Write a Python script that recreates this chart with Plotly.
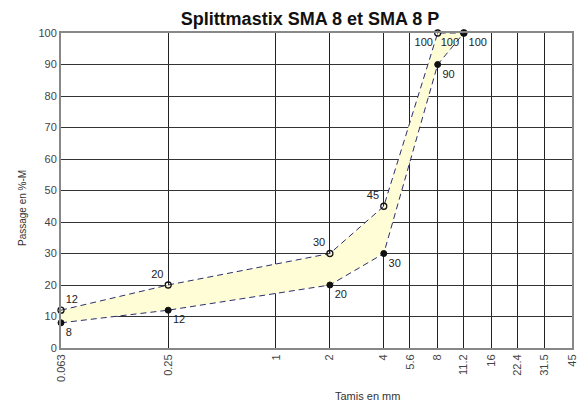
import plotly.graph_objects as go
import math

title = "Splittmastix SMA 8 et SMA 8 P"
x_title = "Tamis en mm"
y_title = "Passage en %-M"
sieve_ticks = [0.063, 0.25, 1, 2, 4, 5.6, 8, 11.2, 16, 22.4, 31.5, 45]
sieve_labels = ["0.063", "0.25", "1", "2", "4", "5.6", "8", "11.2", "16", "22.4", "31.5", "45"]
curve_x = [0.063, 0.25, 2, 4, 8, 11.2]
upper = [12, 20, 30, 45, 100, 100]
lower = [8, 12, 20, 30, 90, 100]
y_ticks = list(range(0, 101, 10))

line_col = "#2a2f6a"
fill_col = "#FFFDD6"
font_fam = "Arial, Liberation Sans, sans-serif"

fig = go.Figure()
fig.add_trace(go.Scatter(
    x=curve_x, y=lower, mode="lines+markers+text",
    line=dict(color=line_col, width=1, dash="6px,4px"),
    marker=dict(symbol="circle", size=6, color="#111111", line=dict(color="#111111", width=1)),
    text=[str(v) for v in lower],
    textposition=["bottom right"] * 6,
    textfont=dict(family=font_fam, size=11, color="#222222"),
    showlegend=False, cliponaxis=False,
))
fig.add_trace(go.Scatter(
    x=curve_x, y=upper, mode="lines+markers+text",
    fill="tonexty", fillcolor=fill_col,
    line=dict(color=line_col, width=1, dash="6px,4px"),
    marker=dict(symbol="circle-open", size=6, color="#111111", line=dict(color="#111111", width=1.3)),
    text=[str(v) for v in upper],
    textposition=["top right", "top left", "top left", "top left", "bottom left", "bottom left"],
    textfont=dict(family=font_fam, size=11, color="#222222"),
    showlegend=False, cliponaxis=False,
))

fig.update_layout(
    width=583, height=403,
    margin=dict(l=61, r=11, t=33, b=55),
    paper_bgcolor="white", plot_bgcolor="white",
    font=dict(family=font_fam, size=11, color="#333333"),
    title=dict(text="<b>" + title + "</b>", x=310 / 583, xanchor="center",
               y=1 - 19 / 403, yanchor="middle",
               font=dict(family=font_fam, size=18, color="#111111")),
    annotations=[
        dict(text=x_title, xref="paper", yref="paper", x=(367 - 61) / 511, y=-(396 - 348) / 315,
             xanchor="center", yanchor="middle", showarrow=False,
             font=dict(size=11, color="#333333")),
        dict(text=y_title, xref="paper", yref="paper", x=-(61 - 22) / 511, y=(348 - 208) / 315,
             xanchor="center", yanchor="middle", showarrow=False, textangle=-90,
             font=dict(size=10, color="#333333")),
    ],
)
fig.update_xaxes(
    type="log", range=[math.log10(0.063), math.log10(45)], automargin=False,
    tickvals=sieve_ticks, ticktext=sieve_labels, tickangle=-90,
    showgrid=True, gridcolor="#222222", gridwidth=1,
    showline=True, linecolor="#888888", linewidth=2, mirror=True,
    ticks="", zeroline=False,
    tickfont=dict(size=11, color="#444444"),
)
fig.update_yaxes(
    range=[0, 100], tickvals=y_ticks, automargin=False,
    showgrid=True, gridcolor="#333333", gridwidth=1,
    showline=True, linecolor="#888888", linewidth=2, mirror=True,
    ticks="", zeroline=False,
    tickfont=dict(size=11, color="#444444"),
)
fig.write_html("out.html", config={"displayModeBar": False},
               post_script="document.body.style.margin='0';document.body.style.overflow='hidden';")
